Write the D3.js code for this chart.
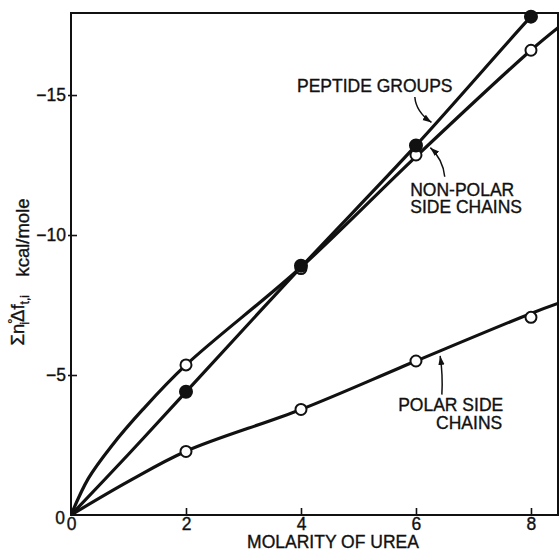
<!DOCTYPE html>
<html>
<head>
<meta charset="utf-8">
<script src="https://cdn.jsdelivr.net/npm/d3@7"></script>
<style>
  body { margin: 0; background: #fff; }
  text { font-family: "Liberation Sans", Arial, sans-serif; fill: #111; stroke: #111; stroke-width: 0.35px; }
</style>
</head>
<body>
<div id="chart"></div>
<script>
var svgWidth = 559;
var svgHeight = 551;

// measured points (molarity of urea, kcal/mole)
var molarity = [2, 4, 6, 8];
var peptideValues = [-4.4, -8.9, -13.2, -17.8];
var nonPolarValues = [-5.36, -8.8, -12.86, -16.6];
var polarValues = [-2.27, -3.77, -5.5, -7.06];

// drawn curves
var peptideCurveX = [0, 1, 2, 4, 6, 8, 8.15];
var peptideCurveY = [0, -2.17, -4.4, -8.85, -13.2, -17.8, -18.1];
var nonPolarCurveX = [0, 0.3, 0.7, 1.25, 2, 4, 6, 8, 8.5];
var nonPolarCurveY = [0, -1.3, -2.45, -3.77, -5.36, -8.85, -12.8, -16.6, -17.45];
var polarCurveX = [0, 1, 2, 4, 6, 8, 8.5];
var polarCurveY = [0, -1.2, -2.28, -3.77, -5.5, -7.2, -7.58];

var xTicks = [0, 2, 4, 6, 8];
var yTicks = [0, -5, -10, -15];

var margin = { top: 13, right: 1, bottom: 36, left: 71 };
var width = svgWidth - margin.left - margin.right;
var height = svgHeight - margin.top - margin.bottom;

var svg = d3.select("#chart")
    .append("svg")
    .attr("width", svgWidth)
    .attr("height", svgHeight);

var chartGroup = svg.append("g")
    .attr("transform", `translate(${margin.left}, ${margin.top})`);

var x = d3.scaleLinear().domain([0, 8.47]).range([0, width]);
var y = d3.scaleLinear().domain([0, -17.93]).range([height, 0]);

svg.append("defs").append("clipPath")
    .attr("id", "plotClip")
    .append("rect")
    .attr("width", width)
    .attr("height", height);

var arrow = svg.select("defs").append("marker")
    .attr("id", "arrowHead")
    .attr("viewBox", "0 0 10 10")
    .attr("refX", 10)
    .attr("refY", 5)
    .attr("markerWidth", 9)
    .attr("markerHeight", 9)
    .attr("markerUnits", "userSpaceOnUse")
    .attr("orient", "auto");
arrow.append("path").attr("d", "M0,1.5 L10,5 L0,8.5 Z").attr("fill", "#111");

// axes
var fmt = d => d === 0 ? "0" : "\u2212" + Math.abs(d);

var xAxis = chartGroup.append("g")
    .attr("transform", `translate(0, ${height})`)
    .call(d3.axisBottom(x).tickValues(xTicks).tickSize(-7).tickPadding(3).tickFormat(d3.format("d")));

var yAxis = chartGroup.append("g")
    .call(d3.axisLeft(y).tickValues(yTicks).tickSize(-6).tickPadding(5).tickFormat(fmt));
yAxis.selectAll(".tick line").attr("x1", -3);

[xAxis, yAxis].forEach(function (a) {
    a.select(".domain").remove();
    a.selectAll(".tick line").attr("stroke", "#111").attr("stroke-width", 1.6);
    a.selectAll(".tick text").attr("font-size", 17.5).attr("fill", "#111")
        .style("font-family", "'Liberation Sans', Arial, sans-serif");
});
xAxis.selectAll(".tick").filter(d => d === 0).select("line").remove();
yAxis.selectAll(".tick").filter(d => d === 0).select("line").remove();
yAxis.selectAll(".tick").filter(d => d === 0).select("text").attr("dy", "0.5em").attr("x", -6);

// frame
chartGroup.append("rect")
    .attr("width", width)
    .attr("height", height)
    .attr("fill", "none")
    .attr("stroke", "#111")
    .attr("stroke-width", 2);

// curves
var line = d3.line()
    .x(d => x(d[0]))
    .y(d => y(d[1]))
    .curve(d3.curveCatmullRom.alpha(0.5));

var curves = [
    d3.zip(peptideCurveX, peptideCurveY),
    d3.zip(nonPolarCurveX, nonPolarCurveY),
    d3.zip(polarCurveX, polarCurveY)
];

chartGroup.append("g")
    .attr("clip-path", "url(#plotClip)")
    .selectAll("path")
    .data(curves)
    .enter()
    .append("path")
    .attr("d", line)
    .attr("fill", "none")
    .attr("stroke", "#111")
    .attr("stroke-width", 3.2);

// points
function drawPoints(values, filled) {
    chartGroup.append("g")
        .selectAll("circle")
        .data(d3.zip(molarity, values))
        .enter()
        .append("circle")
        .attr("cx", d => x(d[0]))
        .attr("cy", d => y(d[1]))
        .attr("r", filled ? 6 : 5.5)
        .attr("fill", filled ? "#111" : "#fff")
        .attr("stroke", "#111")
        .attr("stroke-width", 2);
}
drawPoints(polarValues, false);
drawPoints(nonPolarValues, false);
drawPoints(peptideValues, true);

// annotations
var labels = [
    { text: "PEPTIDE GROUPS", x: 3.93, y: -15.1 },
    { text: "NON-POLAR", x: 5.9, y: -11.38 },
    { text: "SIDE CHAINS", x: 5.9, y: -10.77 },
    { text: "POLAR SIDE", x: 5.69, y: -3.71 },
    { text: "CHAINS", x: 6.35, y: -3.07 }
];
chartGroup.selectAll("text.note")
    .data(labels)
    .enter()
    .append("text")
    .attr("class", "note")
    .attr("x", d => x(d.x))
    .attr("y", d => y(d.y))
    .attr("font-size", 17.5)
    .text(d => d.text);

var arrows = [
    [[5.98, -14.93], [6.0, -14.4], [6.27, -14.02]],
    [[6.5, -12.08], [6.47, -12.7], [6.25, -13.12]],
    [[6.45, -4.3], [6.47, -5.0], [6.42, -5.68]]
];
chartGroup.selectAll("path.arrow")
    .data(arrows)
    .enter()
    .append("path")
    .attr("class", "arrow")
    .attr("d", d => `M${x(d[0][0])},${y(d[0][1])} Q${x(d[1][0])},${y(d[1][1])} ${x(d[2][0])},${y(d[2][1])}`)
    .attr("fill", "none")
    .attr("stroke", "#111")
    .attr("stroke-width", 1.5)
    .attr("marker-end", "url(#arrowHead)");

// axis titles
svg.append("text")
    .attr("x", 333)
    .attr("y", 548)
    .attr("text-anchor", "middle")
    .attr("font-size", 17.5)
    .text("MOLARITY OF UREA");

var yTitle = svg.append("text")
    .attr("transform", "translate(24, 272) rotate(-90)")
    .attr("text-anchor", "middle")
    .attr("font-size", 18.5);
yTitle.append("tspan").text("\u03A3n");
yTitle.append("tspan").attr("font-size", 13).attr("dy", -7).text("\u00B0");
yTitle.append("tspan").attr("font-size", 12).attr("dx", -6).attr("dy", 12).text("i");
yTitle.append("tspan").attr("dy", -5).text("\u0394f");
yTitle.append("tspan").attr("font-size", 12).attr("dy", 5).text("t,i");
yTitle.append("tspan").attr("dy", 0).text("\u2003kcal/mole");
</script>
</body>
</html>
